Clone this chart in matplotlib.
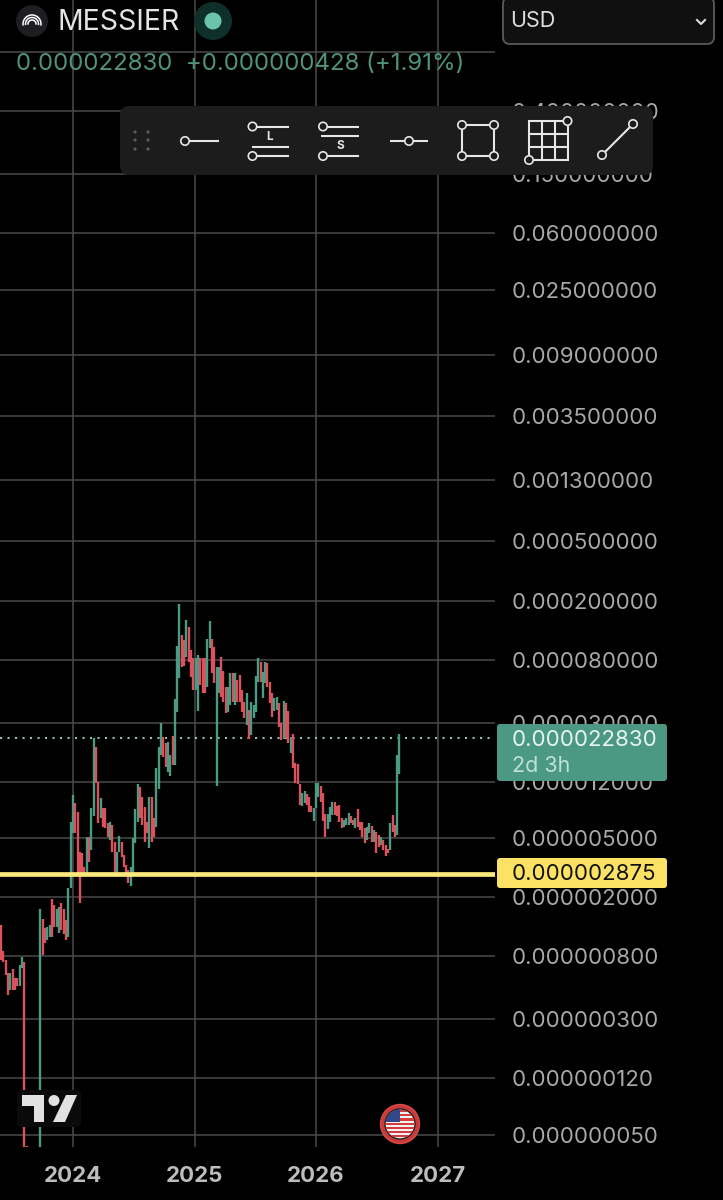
import matplotlib
matplotlib.use("Agg")
import matplotlib.pyplot as plt
import numpy as np
from matplotlib.patches import Arc, Circle, FancyBboxPatch, Polygon, Rectangle
from matplotlib.ticker import NullLocator

plt.rcParams['font.family'] = ['Inter', 'DejaVu Sans']

# weekly candles, prices in units of 1e-6
highs = [1.3, .87, .755, .62, .62, .66, .57, .57, .70, .79,
         .73, .042, .035, .035, .035, .035, .035, 1.65, 1.42, 1.23,
         1.25, 1.3, 1.94, 1.78, 1.65, 1.72, 1.83, 1.65, 1.41, 2.3,
         6.4, 9.8, 8.6, 7.5, 4.0, 3.95, 3.2, 5.05, 5.05, 8.0,
         23.7, 20.6, 11.9, 9.3, 8.0, 8.0, 6.3, 6.4, 6.15, 4.7,
         4.05, 5.15, 4.7, 3.85, 3.3, 3.05, 3.2, 5.0, 7.85, 11.5,
         11.0, 9.45, 8.1, 6.4, 9.45, 9.45, 6.85, 14.8, 20.6, 29.8,
         24.0, 21.9, 22.2, 18.2, 24.4, 43.4, 98.5, 190, 117, 108,
         147, 133, 92.5, 82, 82, 85.6, 82, 82, 82, 110,
         145, 110, 97, 71.2, 71.2, 83, 66.8, 52.2, 52.2, 65,
         65, 65, 58.2, 62.8, 49.8, 41.2, 47.5, 36.5, 41.2, 39.5,
         61.8, 82, 76.8, 65.5, 76.8, 75.6, 56.5, 47.5, 44, 44.5,
         40.7, 29.8, 42, 40.7, 36, 24, 25.2, 16.1, 15.9, 11.5,
         10.1, 10.4, 9.9, 9.45, 8.2, 8.0, 11.7, 11.7, 11.2, 10.1,
         7.3, 7.3, 8.1, 8.7, 8.7, 8.2, 8.4, 6.85, 6.65, 6.85,
         7.4, 7.0, 6.65, 6.85, 7.85, 6.4, 6.4, 5.85, 5.95, 6.3,
         6.05, 5.7, 5.5, 5.25, 5.05, 4.85, 4.5, 4.25, 6.3, 7.2,
         6.15, 18.2, 25.2]
lows = [.755, .73, .60, .44, .475, .475, .475, .50, .50, .67,
        .03, .03, .03, .03, .03, .03, .03, .03, .82, .98,
        1.03, 1.07, 1.07, 1.25, 1.25, 1.15, 1.2, 1.12, 1.03, 1.08,
        2.3, 5.4, 5.4, 2.9, 1.82, 2.8, 2.8, 2.9, 3.45, 4.15,
        7.0, 11.7, 6.3, 6.85, 5.95, 5.85, 5.05, 4.85, 4.05, 2.8,
        2.95, 4.05, 3.7, 3.2, 2.9, 2.5, 2.37, 2.9, 4.6, 6.4,
        6.85, 6.15, 4.7, 5.4, 4.3, 4.7, 5.05, 5.95, 10.7, 18.2,
        17.6, 15.1, 14, 13.1, 15.6, 15.6, 35.3, 60, 71.2, 72.2,
        83, 77, 61, 50, 50, 36, 53.8, 47.5, 47.5, 52,
        95, 65, 55.5, 11.2, 47.5, 44.8, 41.2, 34.8, 35.3, 39.5,
        41.2, 39.5, 41.2, 41.2, 35.3, 32.2, 29, 23.2, 24.8, 32.2,
        35.3, 56.5, 56.5, 44, 55.5, 52, 40.7, 32.8, 36, 36.5,
        28, 22.9, 23.2, 23.7, 22, 18.7, 14.8, 11.7, 11.5, 8.4,
        8.2, 8.6, 8.4, 7.5, 7.5, 6.55, 8.0, 9.45, 8.7, 6.55,
        5.05, 5.75, 6.4, 7.2, 7.2, 7.0, 6.4, 5.85, 5.95, 6.15,
        6.15, 6.3, 6.15, 5.85, 5.95, 5.7, 5.05, 4.6, 4.85, 5.4,
        4.7, 4.7, 3.95, 4.35, 4.5, 4.15, 3.8, 3.95, 4.15, 5.5,
        5.05, 5.25, 13.6]
directions = ("rrrrgrrrgg" "rrrgrgrgrr" "ggrrggrrrg" "ggrrrrrgrg" "grrgrrrgrr"
              "ggrrrrgggg" "rrrrgrrggg" "rrggrgggrr" "grrrggrrrg" "grrggrrrgg"
              "rgrrrrgrgg" "ggrggrrrgg" "rrgrrgrrrr" "ggrrrgggrr" "rgggrrrrgg"
              "grrgrrrrgg" "rgrrgrrrgr" "rgg")
first_year = 2023.408
last_year = 2026.687

price_ticks = [1.0, 0.4, 0.15, 0.06, 0.025, 0.009, 0.0035, 0.0013, 0.0005, 0.0002,
               0.00008, 0.00003, 0.000012, 0.000005, 0.000002, 0.0000008,
               0.0000003, 0.00000012, 0.00000005]
year_ticks = [2024, 2025, 2026, 2027]
last_price = 0.00002283
support_price = 0.000002875

GREEN = '#4b9a84'
RED = '#d9525c'

fig = plt.figure(figsize=(7.23, 12.0), dpi=100, facecolor='black')
ax = fig.add_axes([0, 53 / 1200, 495 / 723, 1147 / 1200], facecolor='black')
ax.set_yscale('log')
ax.set_xlim(2023.399, 2027.473)
ax.set_ylim(4.13e-8, 2.24)

years = np.linspace(first_year, last_year, len(highs))
cols = [GREEN if d == 'g' else RED for d in directions]
ax.vlines(years, np.array(lows) * 1e-6, np.array(highs) * 1e-6, colors=cols, lw=1.7, zorder=3)

ax.axhline(support_price, color='#fbe87a', lw=3.4, zorder=4)
ax.axhline(last_price * 1.04, color='#8fbfae', lw=1.5, ls=(0, (1, 2.6)), zorder=2)

ax.set_yticks(price_ticks)
ax.set_yticklabels(['' if p == 1.0 else '%.9f' % p for p in price_ticks])
ax.yaxis.set_minor_locator(NullLocator())
ax.yaxis.tick_right()
ax.set_xticks(year_ticks)
ax.set_xticklabels([str(y) for y in year_ticks])
ax.tick_params(axis='y', length=0, pad=12, labelsize=16, labelcolor='#a9a9a9')
ax.tick_params(axis='x', length=0, pad=14, labelsize=16, labelcolor='#bdbdbd')
for lab in ax.get_xticklabels():
    lab.set_fontweight('bold')
ax.grid(True, color='#4a4a4a', lw=1.1, zorder=1)
ax.set_axisbelow(True)
for s in ax.spines.values():
    s.set_visible(False)

# interface drawn on top, in screen pixels
ui = fig.add_axes([0, 0, 1, 1], facecolor='none', zorder=5)
ui.set_xlim(0, 723)
ui.set_ylim(1200, 0)
ui.axis('off')


def box(x, y, w, h, fc, ec='none', r=4, lw=1.0):
    ui.add_patch(FancyBboxPatch((x + r, y + r), w - 2 * r, h - 2 * r,
                                boxstyle='round,pad=%d,rounding_size=%d' % (r, r),
                                fc=fc, ec=ec, lw=lw))


def node(x, y, r=4.2):
    ui.add_patch(Circle((x, y), r, fc='#1c1c1c', ec='#e6e6e6', lw=1.2, zorder=6))


def seg(x0, y0, x1, y1):
    ui.plot([x0, x1], [y0, y1], color='#e6e6e6', lw=1.5, zorder=5, solid_capstyle='butt')


# header
ui.add_patch(Circle((32, 21), 16, fc='#1e1e22'))
for rad in [9, 6.5, 4]:
    ui.add_patch(Arc((32, 24), rad * 2, rad * 2, theta1=170, theta2=370, ec='white', lw=1.1))
ui.text(57, 22, 'MESSIER', color='#e4e4e4', fontsize=20.5, va='center', ha='left')
ui.add_patch(Circle((213, 21), 19, fc='#0f2f2b'))
ui.add_patch(Circle((213, 21), 8.5, fc='#6cc3ad'))
ui.text(16, 64, '0.000022830  +0.000000428 (+1.91%)', color='#4e927f', fontsize=17.3,
        va='center', ha='left')
box(503, -3, 211, 47, '#101010', ec='#5a5a5a', r=7, lw=1.3)
ui.text(510, 21, 'USD', color='#dddddd', fontsize=15.5, va='center', ha='left')
ui.plot([697, 701, 705], [20, 24, 20], color='#dddddd', lw=1.5)

# drawing toolbar
box(120, 106, 533, 69, '#1c1c1c', r=9)
for dx in [135, 148]:
    for dy in [132, 140, 149]:
        ui.add_patch(Circle((dx, dy), 1.6, fc='#5c5c5c'))
seg(184, 141, 219, 141)
node(185, 141)
seg(253, 126.5, 289, 126.5)
seg(252, 146.5, 289, 146.5)
seg(253, 156, 289, 156)
node(252.5, 126.5)
node(252.5, 156)
ui.text(270, 137, 'L', color='#e6e6e6', fontsize=8.5, ha='center', va='center', fontweight='bold')
seg(323, 126.5, 358.5, 126.5)
seg(321, 135.7, 358.5, 135.7)
seg(323, 156, 358.5, 156)
node(323, 126.5)
node(323, 156)
ui.text(340, 146, 'S', color='#e6e6e6', fontsize=8.5, ha='center', va='center', fontweight='bold')
seg(390, 141, 428, 141)
node(409, 141)
ui.add_patch(Rectangle((462, 125), 32, 31, fc='none', ec='#e6e6e6', lw=1.5))
for cx, cy in [(462, 125), (494, 125), (462, 156), (494, 156)]:
    node(cx, cy)
ui.add_patch(Rectangle((529, 121), 39, 39, fc='none', ec='#e6e6e6', lw=1.5))
for f in [1 / 3, 2 / 3]:
    seg(529 + 39 * f, 121, 529 + 39 * f, 160)
    seg(529, 121 + 39 * f, 568, 121 + 39 * f)
node(567.5, 121)
node(529, 160)
seg(602, 155, 633, 124)
node(602, 155)
node(633, 124)

# price labels
box(497, 724, 170, 57, '#4c9983', r=3)
ui.text(512, 740, '0.000022830', color='#e8f4f0', fontsize=16, va='center', ha='left')
ui.text(512, 766, '2d 3h', color='#bfe0d6', fontsize=15.5, va='center', ha='left')
box(497, 858, 170, 30, '#fbe264', r=3)
ui.text(512, 874, '0.000002875', color='#111111', fontsize=16, va='center', ha='left')

# TradingView mark
box(17, 1090, 64, 37, '#0a0a0a', r=5)
ui.add_patch(Polygon([(22, 1095), (44, 1095), (44, 1122), (34, 1122), (34, 1106), (22, 1106)], fc='#e2e2e2'))
ui.add_patch(Circle((54, 1100.5), 5.5, fc='#e2e2e2'))
ui.add_patch(Polygon([(66, 1095), (77, 1095), (65, 1122), (53, 1122)], fc='#e2e2e2'))

# flag badge
ui.add_patch(Circle((400, 1124), 19.5, fc='#c93a3a', ec='#d84a4a', lw=1))
ui.add_patch(Circle((400, 1124), 15, fc='#f0f0f0', ec='#222222', lw=1))
flag = Circle((400, 1124), 14.5, transform=ui.transData)
for i, yy in enumerate(np.arange(1110, 1139, 4.2)):
    st = ui.add_patch(Rectangle((385, yy), 30, 2.1, fc='#d43c3c'))
    st.set_clip_path(flag)
can = ui.add_patch(Rectangle((385, 1109), 15, 13, fc='#31478c'))
can.set_clip_path(flag)

fig.savefig('out.png', dpi=100, facecolor='black')
